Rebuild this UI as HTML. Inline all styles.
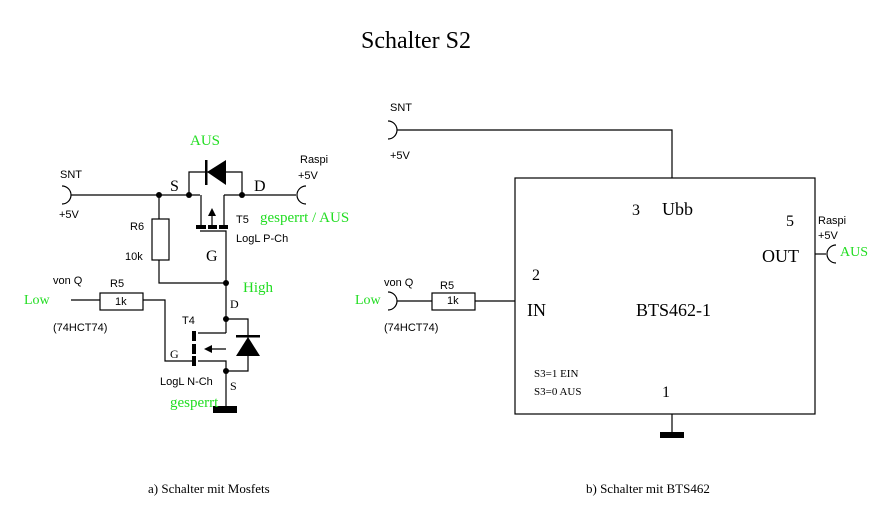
<!DOCTYPE html>
<html><head><meta charset="utf-8"><style>
html,body{margin:0;padding:0;background:#fff;}
svg{display:block}
.s{font-family:"Liberation Sans",sans-serif;font-size:11px;fill:#000}
.r{font-family:"Liberation Serif",serif;fill:#000}
.g{font-family:"Liberation Serif",serif;fill:#22dd22}
</style></head><body>
<svg width="892" height="520" viewBox="0 0 892 520" xmlns="http://www.w3.org/2000/svg">
<g stroke="#000" stroke-width="1.2" fill="none">
<!-- left circuit -->
<path d="M62,186 A9,9 0 0 1 62,204"/>
<path d="M71,195 H200 M224,195 H296"/>
<path d="M306,186 A9,9 0 0 0 306,204"/>
<path d="M189,195 V172 H242 V195"/>
<path d="M159,195 V219 M159,260 V283 H226"/>
<rect x="152" y="219" width="17" height="41"/>
<path d="M201,195 V227 M224,195 V227 M212,211 V227"/>
<path d="M200,231 H226 V333"/>
<path d="M71,300 H100 M143,300 H165 V361 H192"/>
<rect x="100" y="293" width="43" height="17"/>
<path d="M198,333 H226 M206,349 H226 M198,361 H226 V410"/>
<path d="M226,319 H248 V371 H226"/>
<!-- right circuit -->
<path d="M388,121 A9,9 0 0 1 388,139"/>
<path d="M397,130 H672 V178"/>
<rect x="515" y="178" width="300" height="236"/>
<path d="M672,414 V432"/>
<path d="M388,292 A9,9 0 0 1 388,310"/>
<path d="M397,301 H432 M475,301 H515"/>
<rect x="432" y="293" width="43" height="17"/>
<path d="M815,254 H826"/>
<path d="M836,245 A9,9 0 0 0 836,263"/>
</g>
<!-- nodes -->
<g fill="#000">
<circle cx="159" cy="195" r="3"/><circle cx="189" cy="195" r="3"/><circle cx="242" cy="195" r="3"/>
<circle cx="226" cy="283" r="3"/><circle cx="226" cy="319" r="3"/><circle cx="226" cy="371" r="3"/>
<!-- diode T5 -->
<rect x="205" y="160" width="2.5" height="25"/>
<polygon points="207,172 226,160 226,185"/>
<!-- T5 gate bars -->
<rect x="196" y="225" width="10" height="4"/><rect x="208" y="225" width="9" height="4"/><rect x="219" y="225" width="9" height="4"/>
<polygon points="212,208 208,216 216,216"/>
<!-- T4 -->
<rect x="192" y="331" width="4" height="10"/><rect x="192" y="344" width="4" height="10"/><rect x="192" y="356" width="4" height="10"/>
<polygon points="204,349 212,345 212,353"/>
<!-- diode T4 -->
<rect x="236" y="335" width="24" height="2.5"/>
<polygon points="248,337 236,356 260,356"/>
<rect x="213" y="406" width="24" height="7"/>
<rect x="660" y="432" width="24" height="6"/>
</g>
<!-- text -->
<text x="361" y="48" class="r" font-size="24">Schalter S2</text>
<text x="60" y="178" class="s">SNT</text>
<text x="59" y="218" class="s">+5V</text>
<text x="300" y="163" class="s">Raspi</text>
<text x="298" y="179" class="s">+5V</text>
<text x="190" y="145" class="g" font-size="15">AUS</text>
<text x="170" y="191" class="r" font-size="16">S</text>
<text x="254" y="191" class="r" font-size="16">D</text>
<text x="236" y="223" class="s">T5</text>
<text x="260" y="222" class="g" font-size="15">gesperrt / AUS</text>
<text x="236" y="242" class="s">LogL P-Ch</text>
<text x="130" y="230" class="s">R6</text>
<text x="125" y="260" class="s">10k</text>
<text x="206" y="261" class="r" font-size="16">G</text>
<text x="243" y="292" class="g" font-size="15">High</text>
<text x="53" y="284" class="s">von Q</text>
<text x="110" y="287" class="s">R5</text>
<text x="24" y="304" class="g" font-size="14">Low</text>
<text x="115" y="305" class="s">1k</text>
<text x="53" y="331" class="s">(74HCT74)</text>
<text x="230" y="308" class="r" font-size="12">D</text>
<text x="182" y="324" class="s">T4</text>
<text x="170" y="358" class="r" font-size="12">G</text>
<text x="160" y="385" class="s">LogL N-Ch</text>
<text x="230" y="390" class="r" font-size="12">S</text>
<text x="170" y="407" class="g" font-size="15">gesperrt</text>
<text x="390" y="111" class="s">SNT</text>
<text x="390" y="159" class="s">+5V</text>
<text x="384" y="286" class="s">von Q</text>
<text x="440" y="289" class="s">R5</text>
<text x="355" y="304" class="g" font-size="14">Low</text>
<text x="447" y="304" class="s">1k</text>
<text x="384" y="331" class="s">(74HCT74)</text>
<text x="632" y="215" class="r" font-size="16">3</text>
<text x="662" y="215" class="r" font-size="18">Ubb</text>
<text x="786" y="226" class="r" font-size="16">5</text>
<text x="762" y="262" class="r" font-size="18">OUT</text>
<text x="818" y="224" class="s">Raspi</text>
<text x="818" y="239" class="s">+5V</text>
<text x="840" y="256" class="g" font-size="14">AUS</text>
<text x="532" y="280" class="r" font-size="16">2</text>
<text x="527" y="316" class="r" font-size="18">IN</text>
<text x="636" y="316" class="r" font-size="18">BTS462-1</text>
<text x="534" y="377" class="r" font-size="11">S3=1 EIN</text>
<text x="534" y="395" class="r" font-size="11">S3=0 AUS</text>
<text x="662" y="397" class="r" font-size="16">1</text>
<text x="148" y="493" class="r" font-size="13">a) Schalter mit Mosfets</text>
<text x="586" y="493" class="r" font-size="13">b) Schalter mit BTS462</text>
</svg>
</body></html>
